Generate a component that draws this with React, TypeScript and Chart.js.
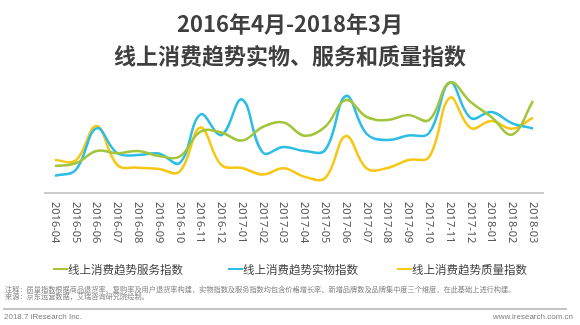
import React, { useEffect, useRef } from "react";
import { Chart, registerables } from "chart.js";

Chart.register(...registerables);

const months = [
  "2016-04", "2016-05", "2016-06", "2016-07", "2016-08", "2016-09",
  "2016-10", "2016-11", "2016-12", "2017-01", "2017-02", "2017-03",
  "2017-04", "2017-05", "2017-06", "2017-07", "2017-08", "2017-09",
  "2017-10", "2017-11", "2017-12", "2018-01", "2018-02", "2018-03",
];

const serviceIndex = [27, 29.7, 42, 39.7, 42, 37, 36.5, 61.3, 60.5, 52.5, 66, 70.5, 57.3, 66.3, 93, 76, 73, 78, 73, 110.5, 91, 76, 58.5, 92];
const goodsIndex = [17.3, 23, 64.7, 39.7, 38, 39.5, 30, 78.5, 58, 93.5, 40.5, 46, 42, 43, 97, 59, 53, 57.5, 60, 110.5, 75, 81, 69.7, 64.5];
const qualityIndex = [33, 32.5, 67, 28, 25.3, 24, 21.3, 65.5, 28, 25, 18.5, 24.7, 16.3, 15, 57, 24.5, 25, 33, 36, 95.3, 65, 72, 64.3, 75.3];

const seriesNames = ["线上消费趋势服务指数", "线上消费趋势实物指数", "线上消费趋势质量指数"];
const seriesColors = ["#a2c53c", "#2bbde6", "#f6c715"];

const titleLines = ["2016年4月-2018年3月", "线上消费趋势实物、服务和质量指数"];
const noteLines = [
  "注释：质量指数根据商品退货率、复购率及用户退货率构建，实物指数及服务指数均包含价格增长率、新增品牌数及品牌集中度三个维度，在此基础上进行构建。",
  "来源：京东运营数据，艾瑞咨询研究院绘制。",
];
const footerLeft = "2018.7 iResearch Inc.";
const footerRight = "www.iresearch.com.cn";

const rotatedLabels = {
  id: "rotatedLabels",
  afterDraw(chart: any) {
    const xs = chart.scales.x;
    const ctx = chart.ctx;
    ctx.save();
    ctx.font = "11px 'Noto Sans'";
    ctx.fillStyle = "#5a5a5a";
    ctx.textAlign = "left";
    ctx.textBaseline = "middle";
    months.forEach((m, i) => {
      const px = xs.getPixelForValue(i);
      ctx.save();
      ctx.translate(px, xs.top + 9);
      ctx.rotate(Math.PI / 2);
      ctx.fillText(m, 0, 0);
      ctx.restore();
    });
    ctx.restore();
  },
};

export default function App() {
  const ref = useRef<HTMLCanvasElement | null>(null);

  useEffect(() => {
    if (!ref.current) return;
    const data = [serviceIndex, goodsIndex, qualityIndex];
    const chart = new Chart(ref.current, {
      type: "line",
      data: {
        labels: months,
        datasets: data.map((d, i) => ({
          label: seriesNames[i],
          data: d,
          borderColor: seriesColors[i],
          backgroundColor: seriesColors[i],
          borderWidth: 2.5,
          pointRadius: 0,
          tension: 0.4,
          fill: false,
        })),
      },
      options: {
        responsive: false,
        animation: false,
        layout: { padding: { left: 44.6, right: 36.6, top: 70, bottom: 132 } },
        plugins: { legend: { display: false }, tooltip: { enabled: false }, title: { display: false } },
        scales: {
          x: {
            offset: true,
            grid: { display: false, drawTicks: false },
            ticks: { display: false },
            border: { display: true, color: "#cccccc", width: 2 },
          },
          y: { display: false, min: 0, max: 123 },
        },
      },
      plugins: [rotatedLabels],
    });
    return () => chart.destroy();
  }, []);

  const cjk = "'Noto Sans CJK SC', 'Noto Sans', sans-serif";

  return (
    <div style={{ position: "absolute", left: 0, top: 0, width: 580, height: 325, background: "#fff", overflow: "hidden" }}>
      <canvas ref={ref} width={580} height={325} style={{ position: "absolute", left: 0, top: 0, width: 580, height: 325 }} />
      <div style={{ position: "absolute", left: 0, width: 580, top: 8, textAlign: "center", fontFamily: cjk, fontWeight: 700, fontSize: 22, lineHeight: "28px", color: "#3f3f3f" }}>
        {titleLines[0]}
      </div>
      <div style={{ position: "absolute", left: 0, width: 580, top: 40, textAlign: "center", fontFamily: cjk, fontWeight: 700, fontSize: 22, lineHeight: "28px", color: "#3f3f3f" }}>
        {titleLines[1]}
      </div>
      {[53, 228, 397].map((lx, i) => (
        <div key={i} style={{ position: "absolute", left: lx, top: 261, height: 16, display: "flex", alignItems: "center" }}>
          <div style={{ width: 15, height: 2, background: seriesColors[i] }} />
          <div style={{ fontFamily: cjk, fontSize: 11.5, color: "#404040", whiteSpace: "nowrap", lineHeight: "16px" }}>{seriesNames[i]}</div>
        </div>
      ))}
      {noteLines.map((t, i) => (
        <div key={i} style={{ position: "absolute", left: 5, top: 284.5 + i * 7.5, fontFamily: cjk, fontSize: 7.2, lineHeight: "8px", color: "#7f7f7f", whiteSpace: "nowrap" }}>
          {t}
        </div>
      ))}
      <div style={{ position: "absolute", left: 3, top: 307.5, width: 564, height: 2, background: "#c4c4c4" }} />
      <div style={{ position: "absolute", left: 4, top: 312, fontFamily: "'Liberation Sans', sans-serif", fontSize: 8, lineHeight: "10px", color: "#808080", whiteSpace: "nowrap" }}>
        {footerLeft}
      </div>
      <div style={{ position: "absolute", right: 7, top: 312, fontFamily: "'Liberation Sans', sans-serif", fontSize: 8, lineHeight: "10px", color: "#808080", whiteSpace: "nowrap" }}>
        {footerRight}
      </div>
    </div>
  );
}
